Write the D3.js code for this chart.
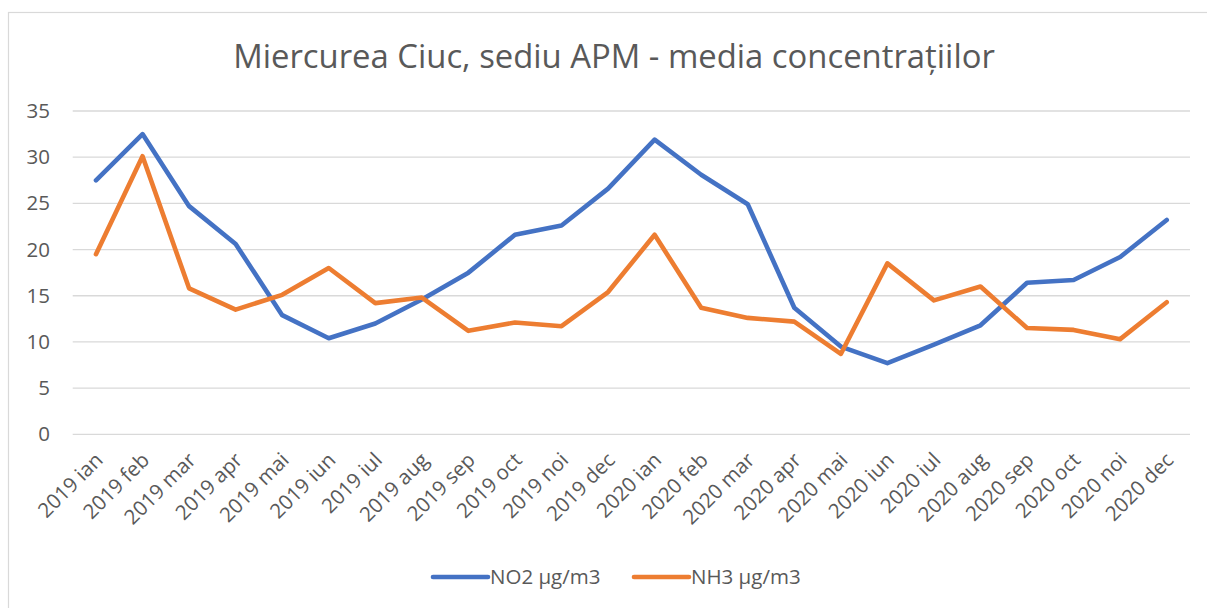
<!DOCTYPE html>
<html>
<head>
<meta charset="utf-8">
<script src="https://cdn.jsdelivr.net/npm/d3@7"></script>
<style>
  html, body { margin: 0; padding: 0; background: #ffffff; }
  svg { display: block; }
  text { font-family: "Open Sans", "Noto Sans", sans-serif; fill: #595959; }
</style>
</head>
<body>
<svg id="chart" width="1207" height="608"></svg>
<script>
// Monthly averages, Miercurea Ciuc (APM headquarters station)
const months = [
  "2019 ian", "2019 feb", "2019 mar", "2019 apr", "2019 mai", "2019 iun",
  "2019 iul", "2019 aug", "2019 sep", "2019 oct", "2019 noi", "2019 dec",
  "2020 ian", "2020 feb", "2020 mar", "2020 apr", "2020 mai", "2020 iun",
  "2020 iul", "2020 aug", "2020 sep", "2020 oct", "2020 noi", "2020 dec"
];
const no2Values = [
  27.5, 32.5, 24.7, 20.6, 12.9, 10.4, 12.0, 14.6, 17.5, 21.6, 22.6, 26.6,
  31.9, 28.1, 24.9, 13.7, 9.5, 7.7, 9.7, 11.8, 16.4, 16.7, 19.2, 23.2
];
const nh3Values = [
  19.5, 30.1, 15.8, 13.5, 15.1, 18.0, 14.2, 14.8, 11.2, 12.1, 11.7, 15.4,
  21.6, 13.7, 12.6, 12.2, 8.7, 18.5, 14.5, 16.0, 11.5, 11.3, 10.3, 14.3
];
const yTicks = [0, 5, 10, 15, 20, 25, 30, 35];
const seriesNames = ["NO2 µg/m3", "NH3 µg/m3"];
const titleText = "Miercurea Ciuc, sediu APM - media concentrațiilor";

const series = [
  { name: seriesNames[0], values: no2Values, color: "#4472C4" },
  { name: seriesNames[1], values: nh3Values, color: "#ED7D31" }
];

const svg = d3.select("#chart");
const plot = { left: 72.7, right: 1190, top: 111, bottom: 434.3 };
const labelSize = "20.5px";

// chart area frame
svg.append("rect")
  .attr("x", 8.5).attr("y", 12.5)
  .attr("width", 1210).attr("height", 610)
  .attr("fill", "#ffffff")
  .attr("stroke", "#D9D9D9")
  .attr("stroke-width", 1.2);

// title, fitted to its width
const title = svg.append("text")
  .attr("x", 614).attr("y", 68)
  .attr("text-anchor", "middle")
  .style("font-size", "30px")
  .text(titleText);
const tw = title.node().getComputedTextLength();
title.style("font-size", (30 * 762 / tw) + "px");

const x = d3.scaleBand()
  .domain(months)
  .range([plot.left, plot.right])
  .paddingInner(0).paddingOuter(0);

const y = d3.scaleLinear()
  .domain([0, 35])
  .range([plot.bottom, plot.top]);

// horizontal gridlines
svg.append("g")
  .selectAll("line")
  .data(yTicks)
  .join("line")
  .attr("x1", plot.left).attr("x2", plot.right)
  .attr("y1", d => y(d)).attr("y2", d => y(d))
  .attr("stroke", "#D9D9D9")
  .attr("stroke-width", 1.3);

// y axis labels
const yAxis = d3.axisLeft(y).tickValues(yTicks).tickSize(0).tickPadding(0);
const gy = svg.append("g")
  .attr("transform", `translate(${50},0)`)
  .call(yAxis);
gy.select(".domain").remove();
gy.selectAll("text")
  .style("font-size", labelSize)
  .style("font-family", "'Open Sans', sans-serif")
  .attr("fill", "#595959");

// x axis labels, rotated
const xAxis = d3.axisBottom(x).tickSize(0).tickPadding(0);
const gx = svg.append("g")
  .attr("transform", `translate(0,${plot.bottom})`)
  .call(xAxis);
gx.select(".domain").remove();
gx.selectAll("text")
  .style("font-size", labelSize)
  .style("font-family", "'Open Sans', sans-serif")
  .attr("fill", "#595959")
  .attr("text-anchor", "end")
  .attr("dy", "0.35em")
  .attr("transform", "translate(3,22) rotate(-45)");

// series lines
const line = d3.line()
  .x((d, i) => x(months[i]) + x.bandwidth() / 2)
  .y(d => y(d));

svg.append("g")
  .selectAll("path")
  .data(series)
  .join("path")
  .attr("d", d => line(d.values))
  .attr("fill", "none")
  .attr("stroke", d => d.color)
  .attr("stroke-width", 4.6)
  .attr("stroke-linejoin", "round")
  .attr("stroke-linecap", "round");

// legend
const legendPos = [433, 634];
const lg = svg.append("g")
  .selectAll("g")
  .data(series)
  .join("g")
  .attr("transform", (d, i) => `translate(${legendPos[i]},577)`);
lg.append("line")
  .attr("x1", 0).attr("x2", 55)
  .attr("y1", 0).attr("y2", 0)
  .attr("stroke", d => d.color)
  .attr("stroke-width", 4.6)
  .attr("stroke-linecap", "round");
lg.append("text")
  .attr("x", 57).attr("y", 0)
  .attr("dy", "0.35em")
  .style("font-size", labelSize)
  .text(d => d.name);
</script>
</body>
</html>
